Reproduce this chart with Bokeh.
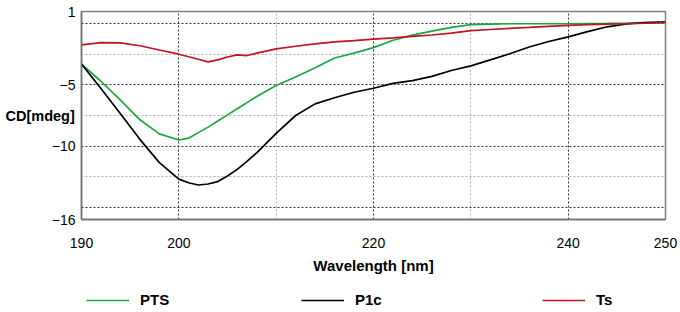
from bokeh.plotting import figure
from bokeh.layouts import column
from bokeh.models import (Range1d, FixedTicker, Grid, Legend, LegendItem,
                          ColumnDataSource)
from bokeh.embed import file_html
from bokeh.resources import INLINE

# ---- data ----
wavelength = [190, 192, 194, 196, 198, 200, 201, 202, 203, 204, 205, 206, 207, 208,
              210, 212, 214, 216, 218, 220, 222, 224, 226, 228, 230, 232, 234, 236,
              238, 240, 242, 244, 246, 248, 250]
pts = [-3.3, -4.7, -6.25, -7.85, -9.0, -9.5, -9.35, -8.9, -8.45, -7.95, -7.45, -6.95,
       -6.45, -5.95, -5.05, -4.35, -3.6, -2.8, -2.4, -1.95, -1.35, -0.93, -0.6, -0.3,
       -0.08, -0.03, 0.0, 0.0, 0.0, 0.0, 0.02, 0.03, 0.06, 0.1, 0.14]
p1c = [-3.3, -5.3, -7.35, -9.45, -11.35, -12.7, -13.0, -13.18, -13.1, -12.9, -12.45,
       -11.9, -11.25, -10.55, -8.96, -7.5, -6.55, -6.05, -5.6, -5.27, -4.88, -4.65,
       -4.3, -3.82, -3.44, -2.95, -2.45, -1.9, -1.45, -1.07, -0.65, -0.25, -0.02,
       0.1, 0.14]
ts = [-1.72, -1.55, -1.57, -1.8, -2.15, -2.49, -2.7, -2.9, -3.12, -2.95, -2.72, -2.55,
      -2.6, -2.4, -2.05, -1.84, -1.65, -1.48, -1.38, -1.26, -1.15, -1.03, -0.92, -0.76,
      -0.57, -0.47, -0.38, -0.3, -0.21, -0.14, -0.08, -0.03, 0.0, 0.04, 0.08]

series_names = ["PTS", "P1c", "Ts"]
series_colors = ["#17a840", "#000000", "#c0141e"]

x_ticks = [190, 200, 220, 240, 250]
y_ticks = [1, -5, -10, -16]
x_major_grid = [200, 220, 240]
x_minor_grid = [210, 230]
y_major_grid = [0, -5, -10, -15]
y_minor_grid = [-2.5, -7.5, -12.5]

FONT = "Liberation Sans"

p = figure(width=680, height=280, output_backend="svg", toolbar_location=None,
           x_range=Range1d(190, 250), y_range=Range1d(-16, 1),
           min_border_left=81, min_border_right=15, min_border_top=11,
           min_border_bottom=61)
p.background_fill_color = "white"
p.border_fill_color = "white"
p.outline_line_color = "#808080"
p.outline_line_width = 1.5

p.xgrid.visible = False
p.ygrid.visible = False

for dim, ticks, col in [(0, x_major_grid, "#333333"), (0, x_minor_grid, "#b0b0b0"),
                        (1, y_major_grid, "#333333"), (1, y_minor_grid, "#b0b0b0")]:
    g = Grid(dimension=dim, ticker=FixedTicker(ticks=ticks),
             grid_line_color=col, grid_line_dash="2 2", grid_line_width=1)
    p.add_layout(g)

src = ColumnDataSource(dict(wl=wavelength, PTS=pts, P1c=p1c, Ts=ts))
for name, col in zip(series_names, series_colors):
    p.line("wl", name, source=src, line_color=col, line_width=1.7)

for ax in (p.xaxis[0], p.yaxis[0]):
    ax.axis_line_color = "#707070"
    ax.axis_line_width = 1.5
    ax.major_tick_line_color = None
    ax.minor_tick_line_color = None
    ax.major_tick_out = 0
    ax.major_label_text_font = FONT
    ax.major_label_text_font_size = "14px"
    ax.major_label_text_color = "black"
    ax.axis_label_text_font = FONT
    ax.axis_label_text_font_style = "bold"
    ax.axis_label_text_color = "black"

p.xaxis.ticker = FixedTicker(ticks=x_ticks)
p.yaxis.ticker = FixedTicker(ticks=y_ticks)
p.xaxis.major_label_standoff = 18
p.yaxis.major_label_standoff = 6
p.xaxis.axis_label = "Wavelength [nm]"
p.xaxis.axis_label_text_font_size = "15px"
p.xaxis.axis_label_standoff = 6

p.yaxis.axis_label = "CD[mdeg]"
p.yaxis.axis_label_orientation = "horizontal"
p.yaxis.axis_label_text_font_size = "14.5px"
p.yaxis.axis_label_standoff = -26

# ---- legend strip below the chart (frames of the column are aligned) ----
lg = figure(width=680, height=32, output_backend="svg", toolbar_location=None,
            x_range=Range1d(0, 1), y_range=Range1d(0, 1),
            x_axis_location=None, y_axis_location=None, min_border=0)
lg.outline_line_color = None
lg.xgrid.visible = False
lg.ygrid.visible = False
lg.background_fill_color = "white"
lg.border_fill_color = "white"

legend_x = [5, 220, 461]
for name, col, lx in zip(series_names, series_colors, legend_x):
    # same series, drawn outside this strip's ranges: only its legend entry shows
    r = lg.line("wl", name, source=src, line_color=col, line_width=1.7)
    leg = Legend(items=[LegendItem(label=name, renderers=[r])], location=(lx, 4),
                 orientation="horizontal", padding=0, margin=0, spacing=0,
                 glyph_width=43, glyph_height=16, label_height=16,
                 label_standoff=11, label_text_font=FONT,
                 label_text_font_size="15px", label_text_font_style="bold",
                 label_text_color="black",
                 border_line_color=None, background_fill_alpha=0)
    lg.add_layout(leg, "center")

layout = column(p, lg, spacing=0)
open("out.html", "w").write(file_html(layout, INLINE))
